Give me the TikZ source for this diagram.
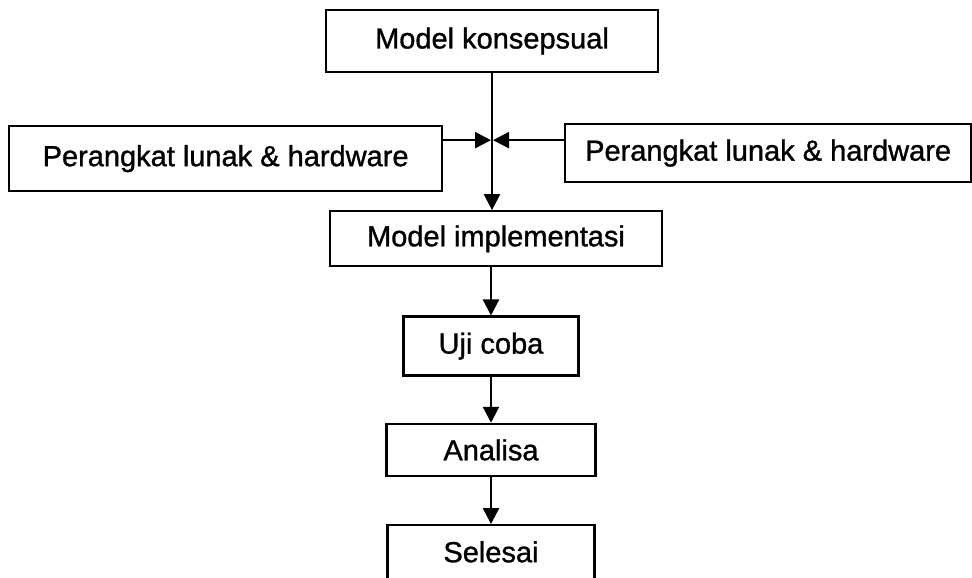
\documentclass[tikz,border=0pt]{standalone}
\usepackage{fontspec}
\setmainfont{Liberation Sans}
\newfontfamily\boxfont{Liberation Sans}[FakeBold=1.1]
\usetikzlibrary{arrows.meta,positioning}

\begin{document}
\begin{tikzpicture}[
    x=1pt, y=1pt,
    box/.style={rectangle, draw=black, line width=2.3pt, align=center, font=\boxfont\fontsize{29}{34}\selectfont, inner sep=0pt},
    arrow/.style={-{Triangle[length=16pt, width=16pt]}, line width=2.3pt, draw=black}
]
\useasboundingbox (0,0) rectangle (972,-578);

% Nodes
\node[box, minimum width=332pt, minimum height=62pt] (konsep) at (492,-41) {Model konsepsual};
\coordinate[below=67pt of konsep.south] (junc);
\node[box, minimum width=433pt, minimum height=65pt, anchor=north west] (hwkiri) at (8,-125) {Perangkat lunak \& hardware};
\node[box, minimum width=406pt, minimum height=58pt, anchor=north west] (hwkanan) at (564,-123) {Perangkat lunak \& hardware};
\node[box, minimum width=332pt, minimum height=55pt, below=137pt of konsep.south, xshift=4pt, anchor=north] (impl) {Model implementasi};
\node[box, minimum width=175pt, minimum height=59pt, below=48pt of impl.south, xshift=-5pt, anchor=north] (uji) {Uji coba};
\node[box, minimum width=209pt, minimum height=52pt, below=46pt of uji] (analisa) {Analisa};
\node[box, minimum width=207pt, text height=29pt, text depth=50pt, inner ysep=8pt, below=47pt of analisa] (selesai) {Selesai};

% Edges
\draw[line width=2.3pt] (konsep.south -| junc) -- (junc);
\draw[arrow] (hwkiri.east |- junc) -- ([xshift=-1pt]junc);
\draw[arrow] (hwkanan.west |- junc) -- ([xshift=1pt]junc);
\draw[arrow] (junc) -- (junc |- impl.north);
\draw[arrow] (impl.south -| uji.north) -- (uji.north);
\draw[arrow] (uji) -- (analisa);
\draw[arrow] (analisa) -- (selesai);

\end{tikzpicture}
\end{document}
